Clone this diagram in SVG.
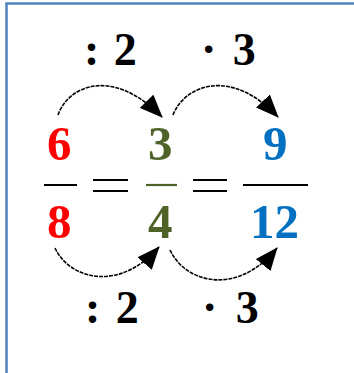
<svg xmlns="http://www.w3.org/2000/svg" width="354" height="373" viewBox="0 0 354 373">
<defs>
<marker id="ah" viewBox="0 0 23 19" refX="22" refY="9.5" markerWidth="23" markerHeight="19" markerUnits="userSpaceOnUse" orient="auto">
<path d="M0,0 L23,9.5 L0,19 Z" fill="#000"/>
</marker>
<style>
.t{font-family:"Liberation Serif","DejaVu Serif",serif;font-weight:bold;font-size:49px}
.l{font-family:"Liberation Serif","DejaVu Serif",serif;font-weight:bold;font-size:46px;fill:#000}
.red{fill:#ff0000}.grn{fill:#4f6228}.blu{fill:#0070c0}
.c{fill:none;stroke:#000;stroke-width:1.6;stroke-dasharray:4 1}
.bar{stroke-width:2.2}
</style>
</defs>
<rect x="0" y="0" width="354" height="373" fill="#fff"/>
<path d="M6.5,373 V3.5 H354" fill="none" stroke="#4f81bd" stroke-width="2.5"/>
<g id="frac1">
<text class="t red" x="47" y="160">6</text>
<line class="bar" x1="44" y1="185" x2="77" y2="185" stroke="#000"/>
<text class="t red" x="47" y="238">8</text>
</g>
<g id="eq1"><line x1="93" y1="180" x2="128" y2="180" stroke="#000" stroke-width="2"/><line x1="93" y1="191" x2="128" y2="191" stroke="#000" stroke-width="2"/></g>
<g id="frac2">
<text class="t grn" x="148" y="160">3</text>
<line class="bar" x1="146" y1="185" x2="177" y2="185" stroke="#4f6228"/>
<text class="t grn" x="148" y="238">4</text>
</g>
<g id="eq2"><line x1="193" y1="180" x2="227" y2="180" stroke="#000" stroke-width="2"/><line x1="193" y1="191" x2="227" y2="191" stroke="#000" stroke-width="2"/></g>
<g id="frac3">
<text class="t blu" x="263" y="160">9</text>
<line class="bar" x1="243" y1="185" x2="308" y2="185" stroke="#000"/>
<text class="t blu" x="250" y="238">12</text>
</g>
<g id="labels">
<text class="l" x="84" y="65">: <tspan dx="3">2</tspan></text>
<text class="l" x="201" y="65">· <tspan dx="5">3</tspan></text>
<text class="l" x="85" y="323">: <tspan dx="4">2</tspan></text>
<text class="l" x="202" y="323">· <tspan dx="7">3</tspan></text>
</g>
<g id="connectors">
<path class="c" d="M58,115 C68,86 112,66 162,117" marker-end="url(#ah)"/>
<path class="c" d="M173,115 C184,86 230,66 278,117" marker-end="url(#ah)"/>
<path class="c" d="M55,248 C70,280 120,292 159,247" marker-end="url(#ah)"/>
<path class="c" d="M170,250 C186,284 238,296 277,248" marker-end="url(#ah)"/>
</g>
</svg>
